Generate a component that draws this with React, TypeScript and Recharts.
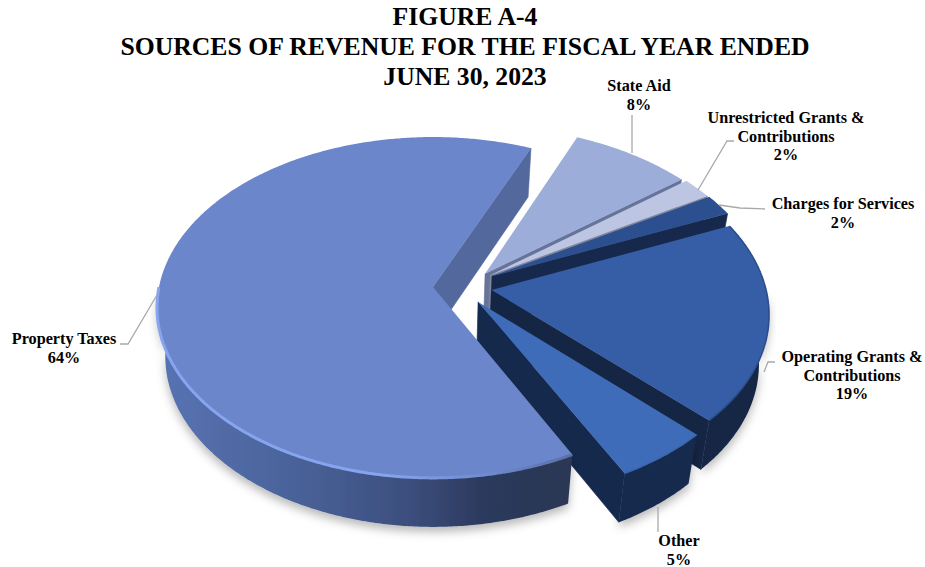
import React from "react";
import { PieChart, Pie } from "recharts";

// Revenue sources, clockwise from the front edge of the largest slice
const categories = [
  "Property Taxes",
  "State Aid",
  "Unrestricted Grants & Contributions",
  "Charges for Services",
  "Operating Grants & Contributions",
  "Other",
];
const shares = [64, 8, 2, 2, 19, 5];
const titleLines = [
  "FIGURE A-4",
  "SOURCES OF REVENUE FOR THE FISCAL YEAR ENDED",
  "JUNE 30, 2023",
];

const rows = categories.map((name, i) => ({ name, value: shares[i] }));

// Projection of the pie's disc onto the page
const CX = 433;
const CY = 287;
const RADIUS = 274;
const TILT = 0.613;
const PERSPECTIVE = 0.12;
const DEPTH = 49;
const BASE_SHRINK = 0.97;

type Look = {
  top: string;
  wall: string;
  end: string;
  rim?: string;
  rimWidth?: number;
  rimWholeArc?: boolean;
  shadow?: boolean;
  pull: [number, number];
};

const looks: Record<string, Look> = {
  "Property Taxes": { top: "#6b86ca", wall: "url(#propertyWall)", end: "#53689d", rim: "url(#propertyRim)", rimWidth: 3, shadow: true, pull: [0, 0] },
  "State Aid": { top: "#9dadd9", wall: "#66739b", end: "#66739b", pull: [0.192, 0.08] },
  "Unrestricted Grants & Contributions": { top: "#bcc6e3", wall: "#80859a", end: "#80859a", pull: [0.21, 0.071] },
  "Charges for Services": { top: "#2c508f", wall: "#16294d", end: "#16294d", pull: [0.217, 0.065] },
  "Operating Grants & Contributions": { top: "#365ea6", wall: "#152544", end: "#152544", rim: "#2b4d8d", rimWidth: 1.6, rimWholeArc: true, shadow: true, pull: [0.213, -0.018] },
  Other: { top: "#3e6cb8", wall: "#15294d", end: "#15294d", rim: "#3a66ae", rimWidth: 1.6, shadow: true, pull: [0.163, -0.088] },
};

// Text placement and leader routes around the pie
const callouts: Record<string, { lines: string[]; x: number; y: number; leader: string }> = {
  "Property Taxes": { lines: ["Property Taxes"], x: 64, y: 344, leader: "120,344 128,344 157,295" },
  "State Aid": { lines: ["State Aid"], x: 639, y: 91, leader: "632,115 632,153" },
  "Unrestricted Grants & Contributions": { lines: ["Unrestricted Grants &", "Contributions"], x: 786, y: 123, leader: "734,141 727,141 698,190" },
  "Charges for Services": { lines: ["Charges for Services"], x: 843, y: 209, leader: "765,209 740,208 719,205" },
  "Operating Grants & Contributions": { lines: ["Operating Grants &", "Contributions"], x: 852, y: 362, leader: "775,362 768,362 764,372" },
  Other: { lines: ["Other"], x: 679, y: 546, leader: "658,507 658,532" },
};

const rad = (deg: number) => (deg * Math.PI) / 180;

function onDisc(u: number, v: number): [number, number] {
  const s = 1 / (1 + PERSPECTIVE * v);
  return [CX + RADIUS * u * s, CY - RADIUS * TILT * v * s];
}
function below([x, y]: [number, number]): [number, number] {
  return [CX + (x - CX) * BASE_SHRINK, y + DEPTH];
}
const pathOf = (pts: [number, number][], close = true) =>
  "M" + pts.map((p) => `${p[0].toFixed(1)} ${p[1].toFixed(1)}`).join("L") + (close ? "Z" : "");

function sweep(a: number, b: number) {
  const out: number[] = [];
  const n = Math.max(2, Math.ceil(Math.abs(b - a) * 2));
  for (let i = 0; i <= n; i++) out.push(a + ((b - a) * i) / n);
  return out;
}

function sliceGeometry(name: string, startAngle: number, endAngle: number) {
  const [du, dv] = looks[name].pull;
  const rim = (deg: number) => onDisc(du + Math.cos(rad(deg)), dv + Math.sin(rad(deg)));
  const apex = onDisc(du, dv);
  const arc = sweep(startAngle, endAngle);
  return {
    apex,
    topPath: pathOf([apex, ...arc.map(rim)]),
    arcPts: arc.map(rim),
    frontPts: arc.filter((d) => Math.sin(rad(d)) < 0).map(rim),
    endWall: pathOf([apex, rim(endAngle), below(rim(endAngle)), below(apex)]),
    startWall: pathOf([apex, rim(startAngle), below(rim(startAngle)), below(apex)]),
    showEnd: Math.cos(rad(endAngle)) > 0,
    showStart: Math.cos(rad(startAngle)) < 0,
  };
}

function Walls({ name, g }: { name: string; g: ReturnType<typeof sliceGeometry> }) {
  const look = looks[name];
  return (
    <>
      {g.showEnd && <path d={g.endWall} fill={look.end} stroke={look.end} strokeWidth={0.6} />}
      {g.showStart && <path d={g.startWall} fill={look.end} stroke={look.end} strokeWidth={0.6} />}
    </>
  );
}

function Front({ name, g }: { name: string; g: ReturnType<typeof sliceGeometry> }) {
  const look = looks[name];
  if (g.frontPts.length < 2) return null;
  const wallPts = [...g.frontPts, ...[...g.frontPts].reverse().map(below)];
  return <path d={pathOf(wallPts)} fill={look.wall} filter={look.shadow ? "url(#pieShadow)" : undefined} />;
}

function Top({ name, g }: { name: string; g: ReturnType<typeof sliceGeometry> }) {
  const look = looks[name];
  const rimPts = look.rimWholeArc ? g.arcPts : g.frontPts;
  return (
    <>
      <path d={g.topPath} fill={look.top} />
      {look.rim && rimPts.length > 1 && (
        <path
          d={pathOf(rimPts, false)}
          fill="none"
          stroke={look.rim}
          strokeWidth={look.rimWidth}
          filter="url(#rimSoft)"
        />
      )}
    </>
  );
}

// Everything except the big slice's upper face and outer wall
function BackLayer(props: any) {
  const name = props.name ?? props.payload?.name;
  const g = sliceGeometry(name, props.startAngle, props.endAngle);
  if (name === categories[0]) return <Walls name={name} g={g} />;
  return (
    <g>
      <Front name={name} g={g} />
      <Walls name={name} g={g} />
      <Top name={name} g={g} />
    </g>
  );
}

// The big slice sits in front of the pulled-out wedges
function FrontLayer(props: any) {
  const name = props.name ?? props.payload?.name;
  if (name !== categories[0]) return <g />;
  const g = sliceGeometry(name, props.startAngle, props.endAngle);
  return (
    <g>
      <Front name={name} g={g} />
      <Top name={name} g={g} />
    </g>
  );
}

function Callout(props: any) {
  const name = props.name ?? props.payload?.name;
  const c = callouts[name];
  const lines = [...c.lines, `${props.value}%`];
  return (
    <g>
      <polyline points={c.leader} fill="none" stroke="#a9a9a9" strokeWidth={1.3} />
      <text
        textAnchor="middle"
        fontFamily="'Liberation Serif', serif"
        fontWeight="bold"
        fontSize={16.2}
        fill="#000"
      >
        {lines.map((line, i) => (
          <tspan key={i} x={c.x} y={c.y + i * 18.5}>
            {line}
          </tspan>
        ))}
      </text>
    </g>
  );
}

export default function App() {
  return (
    <div style={{ position: "absolute", left: 0, top: 0, width: 925, height: 567, overflow: "hidden", background: "#fff" }}>
      <PieChart width={925} height={567} margin={{ top: 0, right: 0, bottom: 0, left: 0 }}>
        <defs>
          <linearGradient id="propertyWall" gradientUnits="userSpaceOnUse" x1="160" y1="0" x2="572" y2="0">
            <stop offset="0" stopColor="#5873b3" />
            <stop offset="0.3" stopColor="#4b649c" />
            <stop offset="0.6" stopColor="#3c4f7e" />
            <stop offset="0.78" stopColor="#2c3a5e" />
            <stop offset="1" stopColor="#2a3753" />
          </linearGradient>
          <linearGradient id="propertyRim" gradientUnits="userSpaceOnUse" x1="160" y1="0" x2="572" y2="0">
            <stop offset="0" stopColor="#86a5ee" />
            <stop offset="0.55" stopColor="#86a5ee" />
            <stop offset="0.8" stopColor="#6f8ace" />
            <stop offset="1" stopColor="#5a6fa8" />
          </linearGradient>
          <filter id="pieShadow" x="-10%" y="-10%" width="120%" height="125%">
            <feDropShadow dx="0" dy="5" stdDeviation="5" floodColor="#000" floodOpacity="0.28" />
          </filter>
          <filter id="rimSoft" x="-5%" y="-5%" width="110%" height="110%">
            <feGaussianBlur stdDeviation="0.6" />
          </filter>
        </defs>
        <Pie
          data={rows}
          dataKey="value"
          nameKey="name"
          cx={CX}
          cy={CY}
          innerRadius={0}
          outerRadius={RADIUS}
          startAngle={-63}
          endAngle={-423}
          stroke="none"
          isAnimationActive={false}
          labelLine={false}
          shape={BackLayer}
        />
        <Pie
          data={rows}
          dataKey="value"
          nameKey="name"
          cx={CX}
          cy={CY}
          innerRadius={0}
          outerRadius={RADIUS}
          startAngle={-63}
          endAngle={-423}
          stroke="none"
          isAnimationActive={false}
          labelLine={false}
          label={Callout}
          shape={FrontLayer}
        />
      </PieChart>
      <div
        style={{
          position: "absolute",
          left: 0,
          top: 2,
          width: 930,
          textAlign: "center",
          fontFamily: "'Liberation Serif', serif",
          fontWeight: "bold",
          fontSize: 25.7,
          lineHeight: "30px",
          color: "#000",
        }}
      >
        {titleLines.map((line) => (
          <div key={line}>{line}</div>
        ))}
      </div>
    </div>
  );
}
